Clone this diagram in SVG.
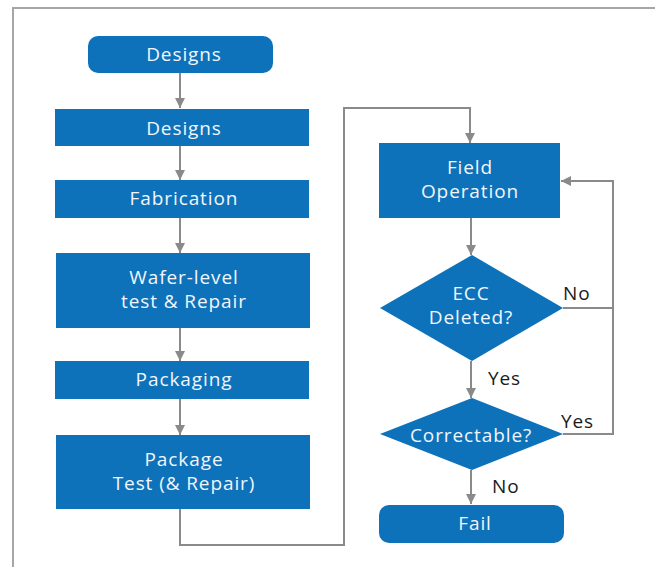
<svg xmlns="http://www.w3.org/2000/svg" width="655" height="567" viewBox="0 0 655 567">
<style>
.n{fill:#0d72ba}
.t{fill:#f2f6fb;font-family:"Open Sans","Liberation Sans",sans-serif;font-size:19px;letter-spacing:0.9px;text-anchor:middle}
.l{fill:#1a1a1a;font-family:"Open Sans","Liberation Sans",sans-serif;font-size:19px;letter-spacing:0.9px}
.c{fill:none;stroke:#8a8a8a;stroke-width:2}
</style>
<defs>
<marker id="a" viewBox="0 0 10 10" refX="10" refY="5" markerWidth="10" markerHeight="10" markerUnits="userSpaceOnUse" orient="auto">
<path d="M0,0 L10,5 L0,10 z" fill="#8a8a8a"/>
</marker>
</defs>
<rect x="13" y="8" width="660" height="600" fill="#fff" stroke="#a6a6a6" stroke-width="2"/>
<g id="connectors">
<path class="c" d="M180,72 V108" marker-end="url(#a)"/>
<path class="c" d="M180,146 V180" marker-end="url(#a)"/>
<path class="c" d="M180,218 V253" marker-end="url(#a)"/>
<path class="c" d="M180,328 V361" marker-end="url(#a)"/>
<path class="c" d="M180,399 V435" marker-end="url(#a)"/>
<path class="c" d="M180,509 V545 H344 V108 H470 V143" marker-end="url(#a)"/>
<path class="c" d="M471,217 V255" marker-end="url(#a)"/>
<path class="c" d="M563,308 H613"/>
<path class="c" d="M563,434 H613 V181 H561" marker-end="url(#a)"/>
<path class="c" d="M471,361 V398" marker-end="url(#a)"/>
<path class="c" d="M471,470 V504" marker-end="url(#a)"/>
<text class="l" x="563" y="300">No</text>
<text class="l" x="488" y="385">Yes</text>
<text class="l" x="561" y="428">Yes</text>
<text class="l" x="492" y="493">No</text>
</g>
<g id="n1"><rect class="n" x="88" y="36" width="185" height="37" rx="10"/><text class="t" x="184" y="61">Designs</text></g>
<g id="n2"><rect class="n" x="55" y="109" width="254" height="37"/><text class="t" x="184" y="135">Designs</text></g>
<g id="n3"><rect class="n" x="55" y="180" width="254" height="38"/><text class="t" x="184" y="205">Fabrication</text></g>
<g id="n4"><rect class="n" x="56" y="253" width="254" height="75"/><text class="t" x="184" y="284">Wafer-level</text><text class="t" x="184" y="308">test &amp; Repair</text></g>
<g id="n5"><rect class="n" x="55" y="361" width="254" height="38"/><text class="t" x="184" y="386">Packaging</text></g>
<g id="n6"><rect class="n" x="56" y="435" width="254" height="74"/><text class="t" x="184" y="466">Package</text><text class="t" x="184" y="490">Test (&amp; Repair)</text></g>
<g id="n7"><rect class="n" x="379" y="143" width="181" height="75"/><text class="t" x="470" y="174">Field</text><text class="t" x="470" y="198">Operation</text></g>
<g id="n8"><polygon class="n" points="472,255 563,308 472,361 380,308"/><text class="t" x="471" y="300">ECC</text><text class="t" x="471" y="324">Deleted?</text></g>
<g id="n9"><polygon class="n" points="472,398 563,434 472,470 380,434"/><text class="t" x="471" y="442">Correctable?</text></g>
<g id="n10"><rect class="n" x="379" y="505" width="185" height="38" rx="10"/><text class="t" x="475" y="530">Fail</text></g>
</svg>
